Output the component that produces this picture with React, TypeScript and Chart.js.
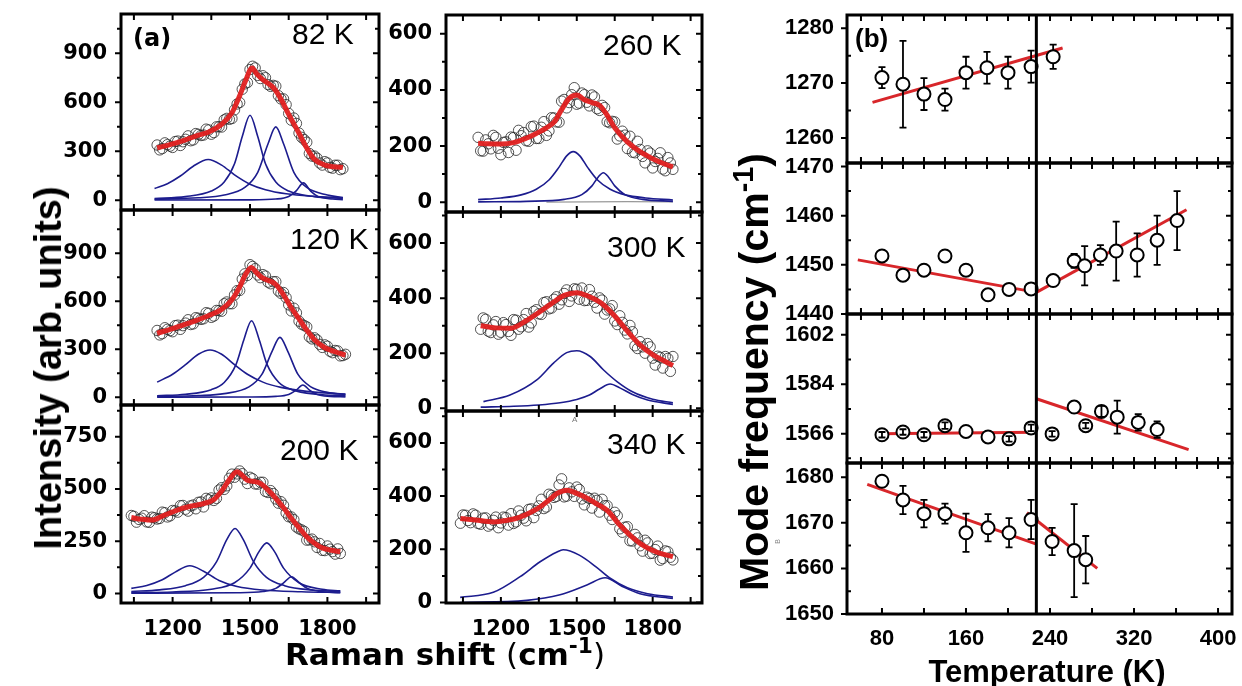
import React, { useEffect, useRef } from 'react';
import { Chart, registerables } from 'chart.js';

Chart.register(...registerables);

const SANS = '"Liberation Sans", Arial, Helvetica, sans-serif';
const DEJA = '"DejaVu Sans", Verdana, sans-serif';

/* ---------------- (a) Raman spectra ---------------- */
const ramanX = [1040, 1050, 1060, 1070, 1080, 1090, 1100, 1110, 1120, 1130, 1140, 1150, 1160, 1170, 1180, 1190, 1200, 1210, 1220, 1230, 1240, 1250, 1260, 1270, 1280, 1290, 1300, 1310, 1320, 1330, 1340, 1350, 1360, 1370, 1380, 1390, 1400, 1410, 1420, 1430, 1440, 1450, 1460, 1470, 1480, 1490, 1500, 1510, 1520, 1530, 1540, 1550, 1560, 1570, 1580, 1590, 1600, 1610, 1620, 1630, 1640, 1650, 1660, 1670, 1680, 1690, 1700, 1710, 1720, 1730, 1740, 1750, 1760, 1770, 1780, 1790, 1800, 1810, 1820, 1830, 1840, 1850, 1860, 1870, 1880];

const spec82 = [null, null, null, null, null, null, null, null, null, null,
  338, 308, 316, 351, 340, 331, 323, 359, 362, 335, 358, 373, 394, 364, 369, 408, 403, 396, 399, 435,
  430, 404, 414, 449, 450, 448, 492, 501, 495, 500, 553, 589, 598, 679, 712, 720, 800, 820, 810, 764,
  745, 762, 750, 708, 697, 703, 698, 640, 620, 620, 585, 531, 490, 503, 470, 411, 385, 371, 355, 286,
  270, 270, 257, 228, 215, 236, 228, 201, 196, 214, 214, 187, 193, null, null];
const spec120 = [null, null, null, null, null, null, null, null, null, null,
  418, 390, 398, 435, 425, 417, 410, 448, 451, 425, 448, 464, 485, 455, 459, 498, 494, 487, 491, 529,
  525, 500, 508, 543, 542, 538, 585, 596, 585, 585, 640, 667, 668, 739, 772, 762, 829, 818, 804, 765,
  748, 767, 758, 720, 710, 723, 723, 665, 650, 655, 623, 578, 540, 557, 528, 476, 457, 449, 440, 378,
  365, 372, 359, 331, 312, 328, 319, 288, 279, 293, 290, 259, 261, 269, null];
const spec200 = [373, 369, 341, 354, 360, 372, 342, 340, 365, 362, 356, 359, 389, 386, 366, 371, 397, 395, 389, 420,
  421, 403, 394, 419, 423, 405, 436, 438, 414, 455, 448, 457, 445, 455, 495, 506, 498, 515, 551, 571,
  556, 572, 586, 573, 547, 526, 556, 549, 524, 523, 532, 532, 488, 483, 492, 478, 452, 432, 439, 422,
  385, 367, 366, 353, 318, 309, 304, 297, 255, 256, 260, 247, 220, 239, 206, 205, 227, 212, 200, 188,
  213, 191, null, null, null];
const spec260 = [null, null, null, null, null, null, null,
  231, 183, 182, 222, 208, 190, 238, 231, 192, 169, 213, 215, 177, 232, 230, 185, 256, 237, 248, 219,
  217, 269, 271, 227, 227, 267, 287, 238, 254, 301, 300, 286, 285, 360, 366, 336, 355, 383, 408, 349,
  353, 389, 383, 356, 343, 382, 375, 333, 327, 345, 337, 287, 283, 288, 286, 225, 236, 253, 239, 191,
  235, 178, 176, 217, 188, 163, 140, 183, 175, 122, 145, 156, 176, 118, 112, 159, 140, 117];
const spec300 = [null, null, null, null, null, null, null, null,
  287, 328, 323, 280, 275, 303, 315, 269, 276, 311, 304, 279, 265, 322, 320, 287, 296, 322, 344, 295,
  310, 352, 358, 343, 341, 384, 387, 361, 364, 396, 405, 378, 394, 417, 430, 388, 408, 434, 432, 396,
  437, 391, 392, 431, 407, 385, 364, 401, 393, 342, 357, 361, 373, 317, 304, 336, 312, 284, 270, 301,
  278, 227, 217, 242, 223, 200, 235, 223, 182, 157, 189, 185, 146, 188, 181, 134, 188];
const spec340 = [298, 329, 328, 308, 300, 333, 328, 297, 294, 317, 318, 287, 294, 309, 321, 281, 299, 321, 319, 291,
  334, 297, 303, 344, 328, 317, 307, 350, 352, 319, 346, 363, 388, 353, 359, 407, 403, 395, 399, 442,
  465, 397, 400, 431, 416, 399, 434, 425, 389, 367, 396, 391, 355, 392, 384, 340, 388, 364, 364, 328,
  312, 339, 326, 277, 264, 283, 285, 232, 231, 256, 243, 213, 193, 234, 224, 184, 185, 199, 212, 159,
  165, 194, 191, 170, 160];

const fit82 = [[1140, 320], [1200, 345], [1250, 370], [1300, 398], [1340, 418], [1390, 465], [1430, 535], [1460, 640], [1480, 720], [1508, 810], [1525, 775], [1550, 738], [1590, 690], [1620, 620], [1650, 525], [1690, 410], [1720, 320], [1750, 250], [1790, 215], [1860, 200]];
const fit120 = [[1140, 400], [1190, 425], [1240, 452], [1290, 480], [1345, 515], [1390, 550], [1430, 610], [1460, 690], [1480, 760], [1505, 812], [1525, 780], [1550, 745], [1580, 725], [1600, 705], [1630, 640], [1660, 560], [1690, 490], [1720, 420], [1750, 360], [1790, 310], [1830, 285], [1870, 264]];
const fit200 = [[1040, 363], [1080, 355], [1120, 351], [1160, 370], [1200, 390], [1240, 408], [1280, 420], [1320, 430], [1360, 450], [1390, 490], [1420, 545], [1450, 582], [1470, 565], [1490, 542], [1520, 535], [1540, 527], [1570, 495], [1600, 455], [1630, 410], [1660, 360], [1690, 315], [1720, 271], [1750, 240], [1780, 218], [1810, 208], [1850, 199]];
const fit260 = [[1110, 210], [1150, 208], [1200, 207], [1250, 212], [1300, 228], [1340, 245], [1380, 265], [1410, 285], [1440, 330], [1470, 370], [1500, 382], [1530, 365], [1560, 355], [1590, 345], [1620, 310], [1650, 265], [1700, 215], [1750, 180], [1800, 155], [1850, 135], [1880, 125]];
const fit300 = [[1120, 300], [1180, 292], [1240, 291], [1300, 318], [1350, 348], [1400, 380], [1450, 410], [1500, 420], [1550, 405], [1600, 380], [1650, 335], [1700, 280], [1750, 230], [1800, 195], [1850, 170], [1880, 155]];
const fit340 = [[1040, 316], [1100, 310], [1170, 303], [1220, 308], [1276, 321], [1320, 340], [1355, 359], [1390, 385], [1422, 410], [1462, 422], [1500, 410], [1541, 392], [1580, 370], [1619, 347], [1670, 291], [1720, 245], [1770, 210], [1820, 188], [1880, 172]];

const comp82 = [
  [[1130, 71], [1180, 101], [1230, 148], [1280, 208], [1338, 249], [1390, 215], [1440, 155], [1500, 98], [1560, 64], [1640, 39], [1740, 24], [1860, 15]],
  [[1130, 10], [1250, 22], [1350, 56], [1400, 111], [1440, 223], [1470, 390], [1500, 520], [1530, 390], [1560, 223], [1600, 111], [1650, 56], [1750, 22], [1860, 10]],
  [[1130, 6], [1300, 15], [1400, 32], [1480, 78], [1530, 171], [1570, 346], [1600, 449], [1630, 346], [1670, 171], [1720, 78], [1800, 32], [1860, 17]],
  [[1130, 1], [1500, 2], [1600, 7], [1650, 23], [1680, 59], [1707, 106], [1735, 56], [1765, 22], [1820, 7], [1860, 3]],
];
const comp120 = [
  [[1140, 95], [1200, 144], [1250, 204], [1300, 269], [1345, 296], [1390, 269], [1440, 204], [1490, 144], [1550, 95], [1620, 62], [1720, 37], [1870, 20]],
  [[1140, 10], [1250, 19], [1350, 48], [1400, 93], [1446, 206], [1476, 359], [1506, 479], [1536, 359], [1566, 206], [1612, 93], [1662, 48], [1760, 19], [1870, 10]],
  [[1140, 5], [1300, 11], [1400, 23], [1496, 65], [1546, 143], [1586, 289], [1616, 375], [1646, 289], [1686, 143], [1736, 65], [1800, 31], [1870, 17]],
  [[1140, 1], [1500, 2], [1600, 6], [1650, 18], [1678, 43], [1705, 77], [1732, 43], [1760, 18], [1810, 6], [1870, 3]],
];
const comp200 = [
  [[1040, 24], [1100, 38], [1160, 65], [1210, 102], [1267, 132], [1320, 106], [1380, 62], [1450, 33], [1550, 16], [1700, 8], [1850, 4]],
  [[1040, 9], [1150, 17], [1250, 37], [1320, 77], [1370, 151], [1410, 257], [1442, 311], [1474, 257], [1514, 151], [1564, 77], [1634, 37], [1740, 16], [1850, 9]],
  [[1040, 4], [1200, 7], [1350, 20], [1440, 51], [1500, 121], [1535, 200], [1565, 242], [1595, 200], [1630, 121], [1690, 51], [1780, 20], [1850, 12]],
  [[1040, 1], [1450, 3], [1550, 9], [1600, 24], [1630, 50], [1661, 80], [1692, 50], [1722, 24], [1772, 9], [1850, 3]],
];
const comp260 = [
  [[1110, 9], [1200, 15], [1280, 26], [1340, 46], [1390, 79], [1430, 125], [1460, 165], [1486, 180], [1512, 165], [1542, 125], [1582, 79], [1632, 46], [1692, 26], [1772, 15], [1880, 8]],
  [[1110, 1], [1300, 3], [1450, 10], [1520, 27], [1560, 58], [1585, 90], [1605, 105], [1625, 90], [1650, 58], [1690, 27], [1760, 10], [1880, 3]],
];
const comp260Gray = [[1380, 0], [1700, 2], [1880, 1]];
const comp300 = [
  [[1131, 24], [1236, 48], [1342, 103], [1408, 164], [1460, 202], [1500, 209], [1553, 188], [1606, 139], [1659, 97], [1720, 60], [1800, 33], [1880, 20]],
  [[1120, 4], [1250, 7], [1350, 12], [1434, 20], [1500, 32], [1550, 48], [1590, 70], [1632, 88], [1670, 74], [1720, 50], [1780, 30], [1880, 14]],
];
const comp340 = [
  [[1039, 19], [1170, 38], [1276, 97], [1355, 153], [1422, 190], [1446, 198], [1510, 178], [1576, 134], [1632, 91], [1700, 55], [1780, 33], [1880, 20]],
  [[1039, 0], [1302, 8], [1434, 29], [1540, 66], [1612, 93], [1680, 60], [1750, 33], [1880, 15]],
];

const panelTemps = ['82 K', '120 K', '200 K', '260 K', '300 K', '340 K'];
const ramanTickLabels = [1200, 1500, 1800];
const ramanTickMarks = [1050, 1200, 1350, 1500, 1650, 1800, 1950];
const intTicks900 = [0, 300, 600, 900];
const intMinor900 = [150, 450, 750, 1050];
const intTicks750 = [0, 250, 500, 750];
const intMinor750 = [125, 375, 625, 875];
const intTicks600 = [0, 200, 400, 600];
const intMinor600 = [100, 300, 500, 700];

/* ---------------- (b) Mode frequency vs temperature ---------------- */
const tempTickLabels = [80, 160, 240, 320, 400];
const tempTickMarks = [60, 80, 100, 120, 140, 160, 180, 200, 220, 240, 260, 280, 300, 320, 340, 360, 380, 400];
const tempTickMarksBottom = [80, 120, 160, 200, 240, 280, 320, 360, 400];
const transitionT = 227;

const t1270 = [80, 100, 120, 140, 160, 180, 200, 222, 243];
const f1270 = [1271, 1269.8, 1268, 1267, 1271.9, 1272.8, 1271.9, 1273, 1274.8];
const e1270 = [1.9, 7.9, 2.9, 2, 2.9, 2.9, 2.9, 2.9, 2.2];
const fit1270 = [[71, 1266.5], [252, 1276.4]];

const t1450 = [80, 100, 120, 140, 160, 181, 201, 222, 243, 263, 273, 288, 303, 323, 342, 361];
const f1450 = [1451.8, 1447.9, 1448.9, 1451.8, 1448.9, 1443.9, 1445, 1445.1, 1446.8, 1450.8, 1449.8, 1452, 1452.8, 1452, 1455, 1459];
const e1450 = [0, 0, 0, 0, 0, 0, 0, 0, 0, 1.4, 4, 2, 6, 4.4, 5, 6];
const fit1450a = [[57, 1451], [227, 1444.4]];
const fit1450b = [[227, 1444.4], [370, 1461.2]];

const t1566 = [80, 100, 120, 140, 160, 181, 201, 222, 242, 263, 274, 289, 304, 324, 342];
const f1566 = [1565.6, 1566.6, 1565.6, 1568.9, 1566.8, 1564.8, 1564.1, 1568.1, 1565.9, 1575.7, 1568.9, 1574.1, 1572, 1570.1, 1567.5];
const e1566 = [1, 1, 1, 1.2, 0, 0, 1, 1.2, 1, 0, 1, 2, 6, 3, 3];
const fit1566a = [[77, 1566], [227, 1566.5]];
const fit1566b = [[227, 1578.7], [372, 1560.2]];

const t1670 = [80, 100, 120, 140, 160, 181, 201, 222, 242, 263, 274];
const f1670 = [1679.1, 1675, 1672, 1672, 1667.8, 1668.9, 1667.8, 1670.7, 1665.9, 1663.9, 1661.9];
const e1670 = [0, 3.1, 3, 2.2, 4.2, 3, 3.2, 4.3, 3, 10.2, 5.2];
const fit1670a = [[66, 1678.4], [227, 1665.3]];
const fit1670b = [[218, 1672.2], [285, 1660]];

/* ---------------- helpers ---------------- */
const pairs = (arr: number[][]) => arr.map(([x, y]) => ({ x, y }));

function ramanSets(spec: (number | null)[], fit: number[][], comps: number[][][], gray?: number[][]) {
  const circles = ramanX.map((x, i) => ({ x, y: spec[i] })).filter((p) => p.y !== null);
  const sets: any[] = [
    { data: pairs(fit), showLine: true, borderColor: 'rgba(226,32,32,0.95)', borderWidth: 5, pointRadius: 0, fill: false, cubicInterpolationMode: 'monotone', order: 1 },
  ];
  comps.forEach((c) => sets.push({ data: pairs(c), showLine: true, borderColor: '#1c1c8e', borderWidth: 1.6, pointRadius: 0, fill: false, cubicInterpolationMode: 'monotone', order: 2 }));
  if (gray) sets.push({ data: pairs(gray), showLine: true, borderColor: '#9a9a9a', borderWidth: 1.2, pointRadius: 0, fill: false, order: 2 });
  sets.push({ data: circles, showLine: false, pointRadius: 5.2, pointBorderWidth: 1, pointBorderColor: 'rgba(40,40,40,0.8)', pointBackgroundColor: 'rgba(0,0,0,0)', order: 3 });
  return sets;
}

function modeSets(t: number[], f: number[], fits: number[][][]) {
  const sets: any[] = [
    { data: t.map((x, i) => ({ x, y: f[i] })), showLine: false, pointRadius: 6.5, pointBorderWidth: 2, pointBorderColor: '#000', pointBackgroundColor: '#fff', order: 1 },
  ];
  fits.forEach((fl) => sets.push({ data: pairs(fl), showLine: true, borderColor: '#d8262a', borderWidth: 3, pointRadius: 0, fill: false, order: 2 }));
  return sets;
}

type Spec = any;

function makeDeco(s: Spec) {
  return {
    id: 'deco',
    afterDatasetsDraw(chart: any) {
      const ctx = chart.ctx;
      const a = chart.chartArea;
      const xs = chart.scales.x;
      const ys = chart.scales.y;
      ctx.save();
      if (s.err) {
        const r = 6.5;
        ctx.strokeStyle = '#000';
        ctx.lineWidth = 1.8;
        s.err.t.forEach((tt: number, i: number) => {
          const e = s.err.e[i];
          if (!e) return;
          const px = xs.getPixelForValue(tt);
          const py = ys.getPixelForValue(s.err.v[i]);
          const top = ys.getPixelForValue(s.err.v[i] + e);
          const bot = ys.getPixelForValue(s.err.v[i] - e);
          ctx.beginPath();
          if (py - top > r) {
            ctx.moveTo(px, top); ctx.lineTo(px, py - r);
            ctx.moveTo(px, py + r); ctx.lineTo(px, bot);
          } else {
            ctx.moveTo(px, top); ctx.lineTo(px, bot);
          }
          ctx.moveTo(px - 3.5, top); ctx.lineTo(px + 3.5, top);
          ctx.moveTo(px - 3.5, bot); ctx.lineTo(px + 3.5, bot);
          ctx.stroke();
        });
      }
      if (s.vline !== undefined) {
        const px = xs.getPixelForValue(s.vline);
        ctx.strokeStyle = '#000';
        ctx.lineWidth = 3;
        ctx.beginPath(); ctx.moveTo(px, a.top); ctx.lineTo(px, a.bottom); ctx.stroke();
      }
      ctx.strokeStyle = '#000';
      ctx.lineWidth = 3;
      ctx.strokeRect(a.left, a.top, a.right - a.left, a.bottom - a.top);
      ctx.lineWidth = 2;
      ctx.beginPath();
      s.xMarks.forEach((v: number) => {
        const px = xs.getPixelForValue(v);
        if (px < a.left + 3 || px > a.right - 3) return;
        ctx.moveTo(px, a.top); ctx.lineTo(px, a.top + 6);
      });
      (s.xMarksBottom || s.xMarks).forEach((v: number) => {
        const px = xs.getPixelForValue(v);
        if (px < a.left + 3 || px > a.right - 3) return;
        ctx.moveTo(px, a.bottom); ctx.lineTo(px, a.bottom - 6);
      });
      s.yTicks.forEach((v: number) => {
        const py = ys.getPixelForValue(v);
        if (py < a.top - 1 || py > a.bottom + 1) return;
        ctx.moveTo(a.left - 6, py); ctx.lineTo(a.left, py);
        ctx.moveTo(a.right, py); ctx.lineTo(a.right - 6, py);
      });
      s.yMinor.forEach((v: number) => {
        const py = ys.getPixelForValue(v);
        if (py < a.top + 2 || py > a.bottom - 2) return;
        if (s.minorIn) { ctx.moveTo(a.left, py); ctx.lineTo(a.left + 4, py); }
        else { ctx.moveTo(a.left - 4, py); ctx.lineTo(a.left, py); }
        ctx.moveTo(a.right, py); ctx.lineTo(a.right - 4, py);
      });
      ctx.stroke();
      ctx.fillStyle = '#000';
      ctx.textBaseline = 'alphabetic';
      ctx.textAlign = 'left';
      if (s.label) {
        ctx.font = `${s.label.size}px ${SANS}`;
        ctx.fillText(s.label.text, a.left + s.label.dx, a.top + s.label.dy);
      }
      if (s.tag) {
        ctx.font = `bold ${s.tag.size}px ${s.tag.family}`;
        ctx.fillText(s.tag.text, a.left + s.tag.dx, a.top + s.tag.dy);
      }
      ctx.restore();
    },
  };
}

const PADV = 30;

function Panel({ s }: { s: Spec }) {
  const ref = useRef<HTMLCanvasElement>(null);
  const [l, t, r, b] = s.rect;
  const padL = s.padL, padR = s.padR;
  const padT = PADV;
  const padB = s.xLabels ? s.padB : PADV;
  const W = r - l + padL + padR;
  const H = b - t + padT + padB;
  useEffect(() => {
    const tickFont = { family: s.tickFamily, size: s.tickSize, weight: 'bold' as const };
    const chart = new Chart(ref.current as HTMLCanvasElement, {
      type: 'scatter',
      data: { datasets: s.datasets },
      options: {
        responsive: false,
        animation: false,
        devicePixelRatio: 1,
        events: [],
        layout: { padding: { left: 0, right: padR, top: padT, bottom: s.xLabels ? 0 : padB } },
        plugins: { legend: { display: false }, tooltip: { enabled: false } },
        scales: {
          x: {
            type: 'linear',
            min: s.xr[0],
            max: s.xr[1],
            display: !!s.xLabels,
            grid: { display: false },
            border: { display: false },
            ticks: { font: tickFont, color: '#000', padding: s.xPad, autoSkip: false, maxRotation: 0, callback: (v: any) => String(v) },
            afterBuildTicks: (ax: any) => { ax.ticks = (s.xLabels || []).map((v: number) => ({ value: v })); },
            afterFit: (ax: any) => { if (s.xLabels) ax.height = padB; },
          },
          y: {
            type: 'linear',
            min: s.yr[0],
            max: s.yr[1],
            grid: { display: false },
            border: { display: false },
            ticks: { font: tickFont, color: '#000', padding: s.yPad, autoSkip: false, callback: (v: any) => String(v) },
            afterBuildTicks: (ax: any) => { ax.ticks = s.yTicks.map((v: number) => ({ value: v })); },
            afterFit: (ax: any) => { ax.width = padL; },
          },
        },
      } as any,
      plugins: [makeDeco(s)],
    });
    return () => chart.destroy();
  }, []);
  return (
    <canvas
      ref={ref}
      width={W}
      height={H}
      style={{ position: 'absolute', left: l - padL, top: t - padT, width: W, height: H }}
    />
  );
}

const A_COL1: [number, number] = [1000, 2000];
const A_COL2: [number, number] = [983, 1995];
const B_X: [number, number] = [46.7, 413.3];
const B_L = 847;
const B_R = 1232;

const labelSpec = (text: string, dx: number, capTop: number) => ({ text, dx, dy: capTop + 21.5, size: 30 });

const colA = { padL: 62, padR: 10, padB: 45, tickSize: 21, tickFamily: DEJA, yPad: 6, xPad: 6 };
const colB = { padL: 80, padR: 12, padB: 45, tickSize: 22, tickFamily: SANS, yPad: 5, xPad: 4 };

const specs: Spec[] = [
  { ...colA, id: 'a82', rect: [121, 14, 379, 210], xr: A_COL1, yr: [-60, 1140], yTicks: intTicks900, yMinor: intMinor900, xMarks: ramanTickMarks, xLabels: null,
    datasets: ramanSets(spec82, fit82, comp82), label: labelSpec(panelTemps[0], 171, 8), tag: { text: '(a)', dx: 12, dy: 32, size: 24, family: DEJA } },
  { ...colA, id: 'a120', rect: [121, 210, 379, 405], xr: A_COL1, yr: [-48, 1171], yTicks: intTicks900, yMinor: intMinor900, xMarks: ramanTickMarks, xLabels: null,
    datasets: ramanSets(spec120, fit120, comp120), label: labelSpec(panelTemps[1], 169, 17) },
  { ...colA, id: 'a200', rect: [121, 405, 379, 603], xr: A_COL1, yr: [-46, 902], yTicks: intTicks750, yMinor: intMinor750, xMarks: ramanTickMarks, xLabels: ramanTickLabels,
    datasets: ramanSets(spec200, fit200, comp200), label: labelSpec(panelTemps[2], 159, 33) },
  { ...colA, id: 'a260', rect: [446, 15, 702, 212], xr: A_COL2, yr: [-35, 667], yTicks: intTicks600, yMinor: intMinor600, xMarks: ramanTickMarks, xLabels: null,
    datasets: ramanSets(spec260, fit260, comp260, comp260Gray), label: labelSpec(panelTemps[3], 157, 18) },
  { ...colA, id: 'a300', rect: [446, 212, 702, 411], xr: A_COL2, yr: [-10, 713], yTicks: intTicks600, yMinor: intMinor600, xMarks: ramanTickMarks, xLabels: null,
    datasets: ramanSets(spec300, fit300, comp300), label: labelSpec(panelTemps[4], 161, 23) },
  { ...colA, id: 'a340', rect: [446, 411, 702, 603], xr: A_COL2, yr: [-2, 720], yTicks: intTicks600, yMinor: intMinor600, xMarks: ramanTickMarks, xLabels: ramanTickLabels,
    datasets: ramanSets(spec340, fit340, comp340), label: labelSpec(panelTemps[5], 161, 21) },

  { ...colB, id: 'b1270', rect: [B_L, 15, B_R, 163], xr: B_X, yr: [1255.45, 1282.4], yTicks: [1260, 1270, 1280], yMinor: [1265, 1275], minorIn: true,
    xMarks: tempTickMarks, xLabels: null, datasets: modeSets(t1270, f1270, [fit1270]), err: { t: t1270, v: f1270, e: e1270 }, vline: transitionT,
    tag: { text: '(b)', dx: 8, dy: 32, size: 26, family: SANS } },
  { ...colB, id: 'b1450', rect: [B_L, 163, B_R, 314], xr: B_X, yr: [1440, 1470.7], yTicks: [1440, 1450, 1460, 1470], yMinor: [1445, 1455, 1465], minorIn: true,
    xMarks: tempTickMarks, xLabels: null, datasets: modeSets(t1450, f1450, [fit1450a, fit1450b]), err: { t: t1450, v: f1450, e: e1450 }, vline: transitionT },
  { ...colB, id: 'b1566', rect: [B_L, 314, B_R, 463], xr: B_X, yr: [1555.3, 1609.6], yTicks: [1566, 1584, 1602], yMinor: [1557, 1575, 1593], minorIn: true,
    xMarks: tempTickMarks, xLabels: null, datasets: modeSets(t1566, f1566, [fit1566a, fit1566b]), err: { t: t1566, v: f1566, e: e1566 }, vline: transitionT },
  { ...colB, id: 'b1670', rect: [B_L, 463, B_R, 614], xr: B_X, yr: [1650, 1683.1], yTicks: [1650, 1660, 1670, 1680], yMinor: [1655, 1665, 1675], minorIn: true,
    xMarks: tempTickMarks, xMarksBottom: tempTickMarksBottom, xLabels: tempTickLabels, datasets: modeSets(t1670, f1670, [fit1670a, fit1670b]),
    err: { t: t1670, v: f1670, e: e1670 }, vline: transitionT },
];

const bigText = (size: number, family: string): React.CSSProperties => ({
  position: 'absolute', whiteSpace: 'nowrap', fontFamily: family, fontWeight: 'bold', fontSize: size, lineHeight: 1, color: '#000',
});

export default function App() {
  useEffect(() => {
    document.body.style.margin = '0';
  }, []);
  return (
    <div style={{ position: 'absolute', left: 0, top: 0, width: 1242, height: 686, background: '#fff', overflow: 'hidden' }}>
      {specs.map((s) => <Panel key={s.id} s={s} />)}
      <div style={{ ...bigText(38, SANS), left: 48, top: 368, transform: 'translate(-50%, -50%) rotate(-90deg)' }}>
        Intensity (arb. units)
      </div>
      <div style={{ ...bigText(31, DEJA), left: 445, top: 654, transform: 'translate(-50%, -50%)' }}>
        Raman shift <span style={{ fontWeight: 'normal' }}>(</span>cm<sup style={{ fontSize: '0.7em', lineHeight: 0 }}>-1</sup><span style={{ fontWeight: 'normal' }}>)</span>
      </div>
      <div style={{ ...bigText(41, SANS), left: 754, top: 372, transform: 'translate(-50%, -50%) rotate(-90deg)' }}>
        Mode frequency (cm<sup style={{ fontSize: '0.7em', lineHeight: 0 }}>-1</sup>)
      </div>
      <div style={{ ...bigText(31, SANS), left: 1047, top: 671, transform: 'translate(-50%, -50%)' }}>
        Temperature (K)
      </div>
      <div style={{ position: 'absolute', left: 572, top: 415, fontFamily: SANS, fontSize: 8, color: '#777' }}>A</div>
      <div style={{ position: 'absolute', left: 775, top: 538, fontFamily: SANS, fontSize: 7, color: '#888', transform: 'rotate(-90deg)' }}>B</div>
    </div>
  );
}
